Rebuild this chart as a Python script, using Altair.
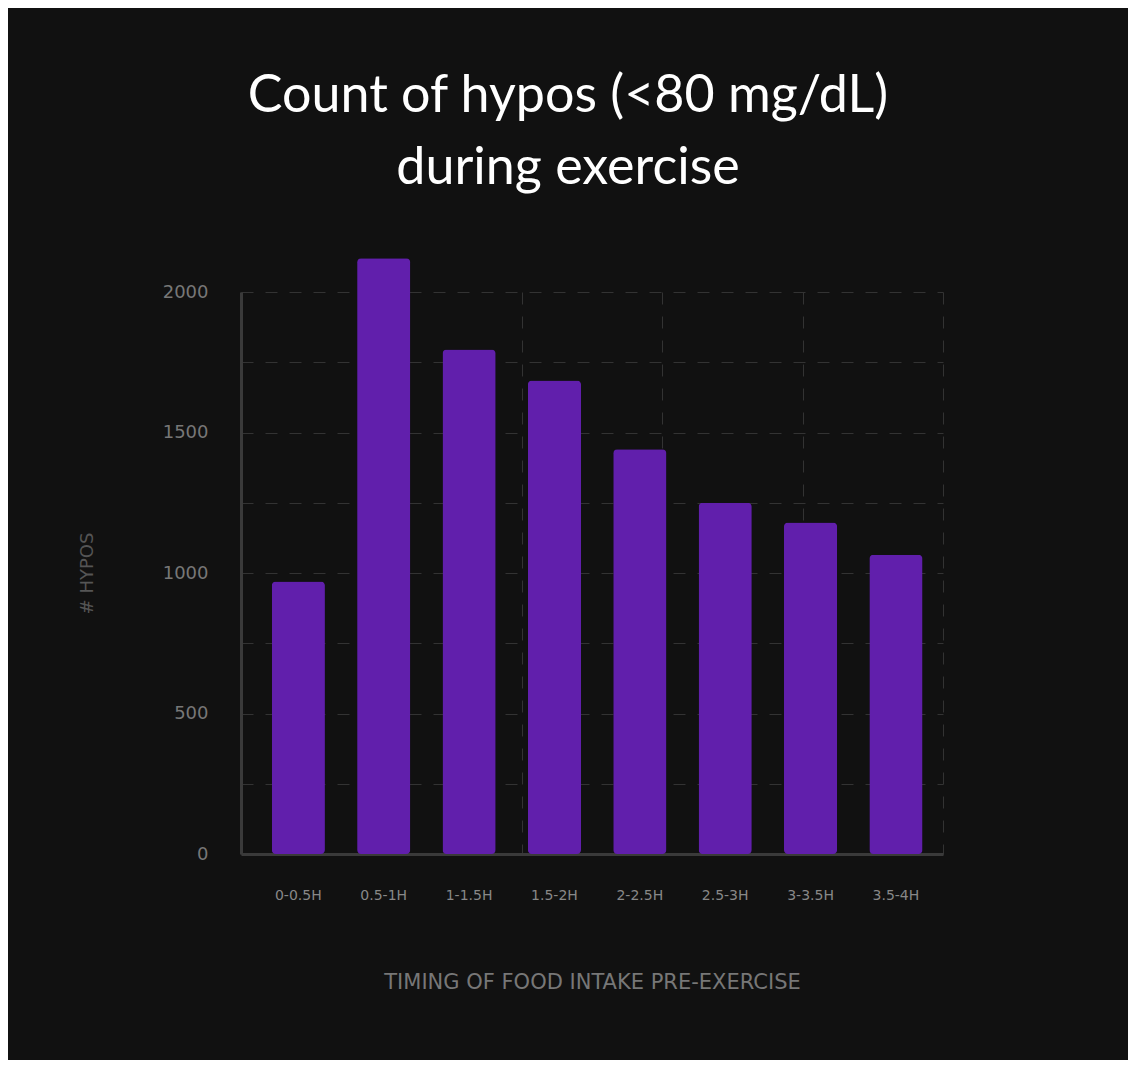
import altair as alt
import pandas as pd

categories = ["0-0.5H", "0.5-1H", "1-1.5H", "1.5-2H", "2-2.5H", "2.5-3H", "3-3.5H", "3.5-4H"]
values = [970, 2120, 1795, 1685, 1440, 1250, 1180, 1065]
y_grid_values = [0, 250, 500, 750, 1000, 1250, 1500, 1750, 2000]
x_grid_domain = [0, 5]

df = pd.DataFrame({"timing": categories, "hypos": values})
grid_df = pd.DataFrame({"g": x_grid_domain})

GRID = "#333333"
AXIS = "#3a3a3a"

vgrid = alt.Chart(grid_df).mark_point(opacity=0).encode(
    x=alt.X("g:Q",
            scale=alt.Scale(domain=x_grid_domain, nice=False, zero=False),
            axis=alt.Axis(orient="top", grid=True, gridColor=GRID, gridDash=[12, 12],
                          gridWidth=1, labels=False, ticks=False, domain=False,
                          tickCount=5, title=None))
)

bars = alt.Chart(df).mark_bar(color="#611fac", cornerRadius=4).encode(
    x=alt.X("timing:N", sort=categories,
            scale=alt.Scale(paddingInner=0.377, paddingOuter=0.30, align=0.6),
            axis=alt.Axis(title="TIMING OF FOOD INTAKE PRE-EXERCISE",
                          labelAngle=0, labelColor="#888888", labelFontSize=14,
                          labelFont="DejaVu Sans", labelPadding=34,
                          ticks=False, tickSize=0, grid=False,
                          domainColor=AXIS, domainWidth=3,
                          titleColor="#777777", titleFontSize=21, titleFontWeight="normal",
                          titleFont="DejaVu Sans", titleBaseline="middle", titleY=128)),
    y=alt.Y("hypos:Q",
            scale=alt.Scale(domain=[0, 2000], nice=False),
            axis=alt.Axis(title="# HYPOS", values=y_grid_values,
                          labelExpr="datum.value % 500 == 0 ? datum.label : ''",
                          format="d",
                          labelColor="#777777", labelFontSize=18, labelFont="DejaVu Sans",
                          labelPadding=33, ticks=False, tickSize=0,
                          grid=True, gridColor=GRID, gridDash=[12, 12], gridWidth=1,
                          domainColor=AXIS, domainWidth=3,
                          titleColor="#555555", titleFontSize=18, titleFontWeight="normal",
                          titleFont="DejaVu Sans", titleAngle=-90, titleBaseline="middle",
                          titleAlign="center", titleX=-154, titleY=281))
)

chart = alt.layer(vgrid, bars).resolve_scale(x="independent").resolve_axis(x="independent").properties(
    width=702,
    height=562,
    padding={"left": 233, "top": 284, "right": 185, "bottom": 206},
    autosize=alt.AutoSizeParams(type="none"),
    background="#111111",
    title=alt.TitleParams(
        text=["Count of hypos (<80 mg/dL)", "during exercise"],
        color="#ffffff", font="Lato", fontSize=52, fontWeight="normal",
        lineHeight=72, anchor="middle", dx=-24, offset=63, frame="group",
    ),
).configure_view(stroke=None)

chart.save("out.html", embed_options={"renderer": "svg", "actions": False})
